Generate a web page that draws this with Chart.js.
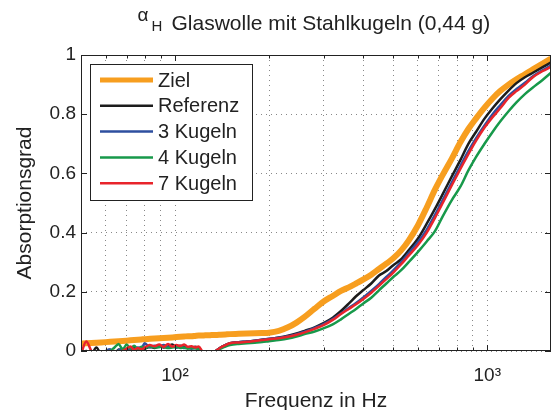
<!DOCTYPE html>
<html>
<head>
<meta charset="utf-8">
<script src="https://cdn.jsdelivr.net/npm/chart.js@4/dist/chart.umd.min.js"></script>
<style>
  body { margin: 0; background: #fff; }
  canvas { display: block; }
</style>
</head>
<body>
<canvas id="myChart" width="551" height="410"></canvas>
<script>
// frequencies in Hz
const freq = [50, 52, 54, 56, 58, 60, 62, 64, 66, 68, 70, 72, 74, 76, 78, 80, 83, 86, 89, 92, 95, 98,
  101, 104, 107, 110, 113, 116, 119, 122, 125, 128, 131,
  135, 140, 145, 150, 160, 170, 180, 190, 200, 215, 230, 245, 260, 280, 300, 320, 340, 360, 380, 400,
  425, 450, 475, 500, 530, 560, 600, 640, 680, 720, 770, 820, 870, 920, 980, 1040, 1100, 1170, 1240,
  1320, 1400, 1500, 1600];

const ziel = [.025, .026, .027, .028, .029, .030, .031, .032, .033, .034, .035, .036, .037, .038, .039, .040,
  .041, .042, .043, .044, .045, .046, .047, .048, .049, .050, .050, .051, .052, .052, .053, .053, .054,
  .054, .055, .056, .057, .058, .059, .060, .061, .062, .068, .080, .096, .115, .143, .168, .186, .203, .215,
  .228, .241, .258, .277, .295, .313, .340, .373, .425, .485, .545, .595, .650, .705, .750, .785, .822, .853,
  .878, .900, .918, .935, .952, .970, .988];

const referenz = [-0.01, 0.0, -0.01, .012, -0.01, -0.005, 0.0, -0.01, .005, 0.0, .008, .004, .01, 0.0, .012, .008,
  .014, .01, .016, .012, .015, .022, .012, .018, .014, .012, .01, .014, .008, -0.005, -0.02, -0.025, -0.012,
  0.0, .012, .02, .026, .03, .032, .035, .038, .041, .046, .052, .059, .068, .08, .095, .112, .135, .16, .185,
  .205, .228, .255, .27, .29, .31, .34, .38, .43, .48, .53, .59, .645, .70, .74, .785, .82, .85, .88, .905,
  .925, .94, .958, .975];

const kugeln3 = [.004, -0.01, -0.01, -0.005, -0.01, 0.0, .006, -0.01, .003, .008, 0.0, .01, .006, .012, .01, .026,
  .012, .018, .015, .02, .014, .016, .012, .015, .01, .012, .008, .01, .006, -0.008, -0.02, -0.025, -0.015,
  0.0, .012, .02, .026, .03, .032, .035, .038, .041, .045, .05, .057, .065, .078, .092, .108, .127, .145, .162,
  .18, .203, .226, .25, .272, .30, .33, .368, .41, .46, .51, .57, .625, .675, .718, .762, .80, .83, .862, .885,
  .906, .928, .948, .965];

const kugeln4 = [-0.01, -0.01, -0.01, -0.01, -0.01, -0.005, 0.0, .012, .024, .005, .022, .008, .018, .006, .014, .01,
  .016, .012, .013, .015, .01, .012, .014, .01, .012, .008, .01, .009, .006, -0.008, -0.02, -0.025, -0.02,
  -0.005, .008, .015, .02, .024, .026, .028, .03, .033, .037, .042, .049, .057, .066, .077, .09, .107, .125, .142,
  .16, .18, .205, .228, .25, .273, .30, .335, .37, .405, .455, .51, .555, .61, .655, .70, .74, .775, .81, .84,
  .868, .89, .915, .94];

const kugeln7 = [-0.01, .032, 0.0, -0.01, -0.01, -0.01, -0.005, 0.0, -0.01, 0.0, .008, .015, .004, .01, .006, .012,
  .02, .016, .022, .014, .024, .015, .02, .017, .022, .014, .016, .012, .015, 0.0, -0.015, -0.025, -0.015,
  0.0, .012, .02, .026, .029, .031, .034, .037, .04, .043, .048, .055, .063, .075, .088, .105, .125, .142, .158,
  .175, .197, .22, .243, .265, .293, .322, .358, .40, .45, .50, .56, .615, .665, .71, .755, .79, .82, .855, .878,
  .90, .925, .945, .96];

const seriesNames = ['Ziel', 'Referenz', '3 Kugeln', '4 Kugeln', '7 Kugeln'];
const seriesValues = [ziel, referenz, kugeln3, kugeln4, kugeln7];
const seriesColors = ['#f79e1f', '#1c1c1c', '#2e4f9f', '#17994a', '#e8242b'];
const seriesWidths = [6, 2.5, 2.5, 2.5, 2.5];

const xTickValues = [60, 70, 80, 90, 100, 200, 300, 400, 500, 600, 700, 800, 900, 1000];
const xTickLabels = { 100: '10²', 1000: '10³' };

const FONT = '"Liberation Sans", Arial, sans-serif';

const datasets = seriesNames.map((name, i) => ({
  label: name,
  data: freq.map((f, j) => ({ x: f, y: seriesValues[i][j] })),
  borderColor: seriesColors[i],
  borderWidth: seriesWidths[i],
  pointRadius: 0,
  cubicInterpolationMode: 'monotone',
  clip: 0,
  order: seriesNames.length - i
}));

// frame, inward ticks, legend box and title with subscript
const matlabLook = {
  id: 'matlabLook',
  afterDraw(chart) {
    const ctx = chart.ctx;
    const a = chart.chartArea;
    const xs = chart.scales.x, ys = chart.scales.y;
    ctx.save();
    ctx.setLineDash([]);
    ctx.strokeStyle = '#222';
    ctx.lineWidth = 1;

    ctx.beginPath();
    xTickValues.forEach(v => {
      const px = Math.round(xs.getPixelForValue(v)) + 0.5;
      const len = xTickLabels[v] ? 6 : 3.5;
      ctx.moveTo(px, a.bottom); ctx.lineTo(px, a.bottom - len);
      ctx.moveTo(px, a.top); ctx.lineTo(px, a.top + len);
    });
    ys.ticks.forEach(t => {
      const py = Math.round(ys.getPixelForValue(t.value)) + 0.5;
      ctx.moveTo(a.left, py); ctx.lineTo(a.left + 6, py);
      ctx.moveTo(a.right, py); ctx.lineTo(a.right - 6, py);
    });
    ctx.stroke();
    ctx.strokeRect(a.left + 0.5, a.top + 0.5, a.right - a.left - 1, a.bottom - a.top - 1);

    // legend
    const lx = 90.5, ly = 64.5, lw = 162, lh = 136;
    ctx.fillStyle = '#fff';
    ctx.fillRect(lx, ly, lw, lh);
    ctx.strokeStyle = '#222';
    ctx.strokeRect(lx, ly, lw, lh);
    ctx.font = '20px ' + FONT;
    ctx.textBaseline = 'middle';
    ctx.textAlign = 'left';
    chart.data.datasets.forEach((ds, i) => {
      const y = 80 + i * 25.8;
      ctx.strokeStyle = ds.borderColor;
      ctx.lineWidth = i === 0 ? 5 : 2.5;
      ctx.beginPath();
      ctx.moveTo(100, y); ctx.lineTo(153, y);
      ctx.stroke();
      ctx.fillStyle = '#222';
      ctx.fillText(ds.label, 158, y + 1);
    });

    // title
    ctx.fillStyle = '#222';
    ctx.textBaseline = 'alphabetic';
    ctx.font = '19px ' + FONT;
    ctx.fillText('α', 137.5, 21);
    ctx.font = '15px ' + FONT;
    ctx.fillText('H', 151.5, 31);
    ctx.font = '21px ' + FONT;
    ctx.fillText('Glaswolle mit Stahlkugeln (0,44 g)', 171.5, 30);
    ctx.restore();
  }
};

const ctx = document.getElementById('myChart').getContext('2d');
const chart = new Chart(ctx, {
  type: 'line',
  data: { datasets: datasets },
  plugins: [matlabLook],
  options: {
    responsive: false,
    animation: false,
    devicePixelRatio: 1,
    layout: { padding: { top: 55, right: 0, bottom: 0, left: 0 } },
    plugins: {
      legend: { display: false },
      title: { display: false },
      tooltip: { enabled: false }
    },
    scales: {
      x: {
        type: 'logarithmic',
        min: 50,
        max: 1600,
        afterBuildTicks: s => { s.ticks = xTickValues.map(v => ({ value: v })); },
        afterFit: s => { s.height = 59; },
        grid: { color: '#888', lineWidth: 1, drawTicks: false },
        border: { display: false, dash: [1, 4] },
        ticks: {
          autoSkip: false,
          maxRotation: 0,
          padding: 13,
          color: '#222',
          font: { family: FONT, size: 19 },
          callback: v => xTickLabels[v] || ''
        },
        title: {
          display: true,
          text: 'Frequenz in Hz',
          color: '#222',
          font: { family: FONT, size: 21, lineHeight: 0.88 },
          padding: 0
        }
      },
      y: {
        min: 0,
        max: 1,
        afterFit: s => { s.width = 81; },
        grid: { color: '#888', lineWidth: 1, drawTicks: false },
        border: { display: false, dash: [1, 4] },
        ticks: {
          stepSize: 0.2,
          padding: 5,
          color: '#222',
          font: { family: FONT, size: 19 },
          callback: v => String(Number(v.toFixed(1)))
        },
        title: {
          display: true,
          text: 'Absorptionsgrad',
          color: '#222',
          font: { family: FONT, size: 21, lineHeight: 1.2 },
          padding: { top: 13, bottom: 0 }
        }
      }
    }
  }
});
</script>
</body>
</html>
